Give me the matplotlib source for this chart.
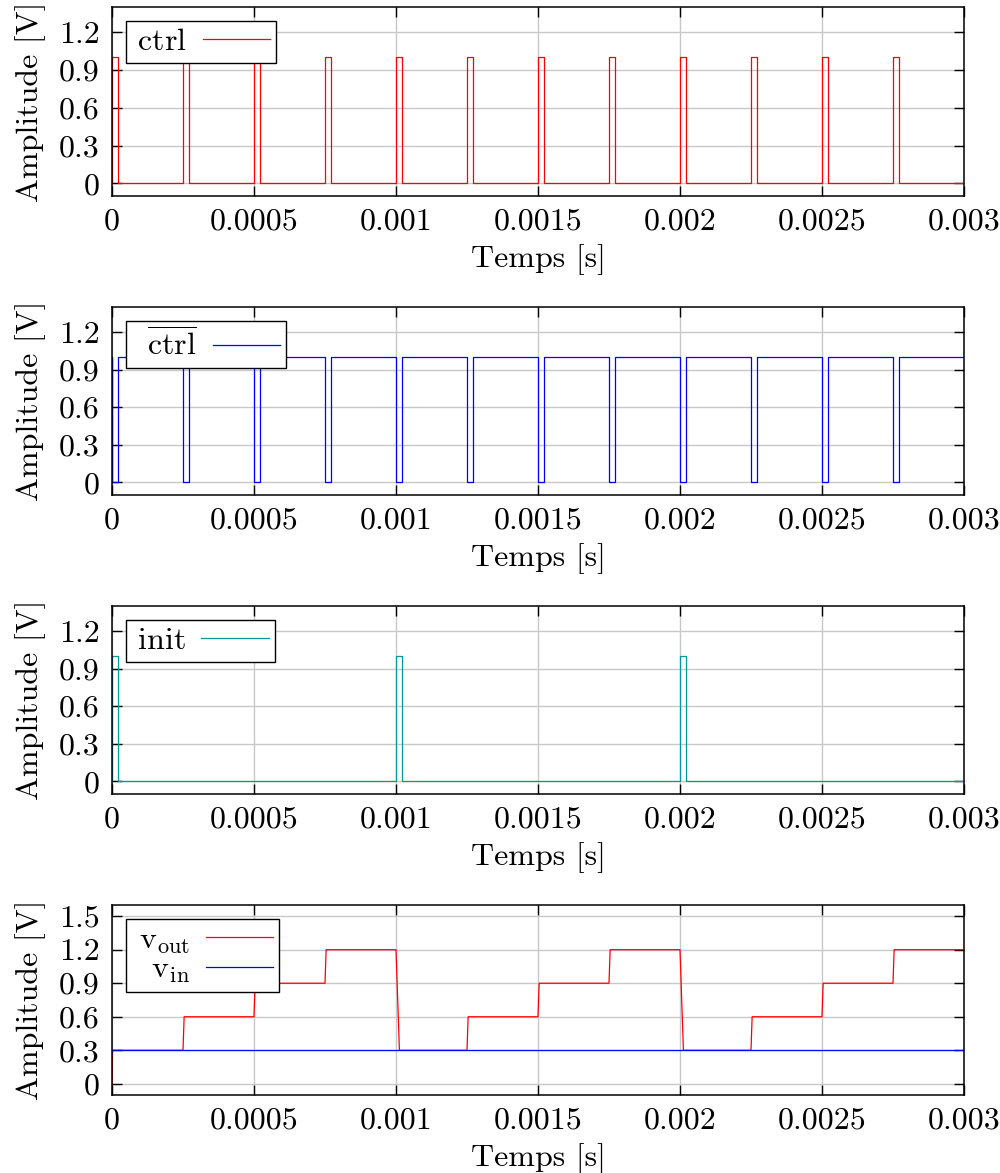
import numpy as np
import matplotlib
matplotlib.use("Agg")
import matplotlib.pyplot as plt

plt.rcParams['font.family'] = ['cmr10', 'DejaVu Serif']
plt.rcParams['mathtext.fontset'] = 'cm'
plt.rcParams['axes.formatter.use_mathtext'] = True
plt.rcParams['axes.unicode_minus'] = False

# ---------------- data ----------------
t_end = 0.003
ctrl_pulse_starts = [0.0, 0.00025, 0.0005, 0.00075, 0.001, 0.00125,
                     0.0015, 0.00175, 0.002, 0.00225, 0.0025, 0.00275]
pulse_width = 0.00002
init_pulse_starts = [0.0, 0.001, 0.002]

vout_t = [0.0, 0.000002, 0.00025, 0.000254, 0.0005, 0.000504, 0.00075, 0.000754,
          0.001, 0.001012, 0.00125, 0.001254, 0.0015, 0.001504, 0.00175, 0.001754,
          0.002, 0.002012, 0.00225, 0.002254, 0.0025, 0.002504, 0.00275, 0.002754, 0.003]
vout_v = [0.0, 0.3, 0.3, 0.6, 0.6, 0.9, 0.9, 1.2,
          1.2, 0.3, 0.3, 0.6, 0.6, 0.9, 0.9, 1.2,
          1.2, 0.3, 0.3, 0.6, 0.6, 0.9, 0.9, 1.2, 1.2]
vin_t = [0.0, 0.003]
vin_v = [0.3, 0.3]

xticks = [0, 0.0005, 0.001, 0.0015, 0.002, 0.0025, 0.003]
xtick_labels = ['0', '0.0005', '0.001', '0.0015', '0.002', '0.0025', '0.003']
yticks_a = [0, 0.3, 0.6, 0.9, 1.2]
ytick_labels_a = ['0', '0.3', '0.6', '0.9', '1.2']
yticks_b = [0, 0.3, 0.6, 0.9, 1.2, 1.5]
ytick_labels_b = ['0', '0.3', '0.6', '0.9', '1.2', '1.5']


def pulse_train(starts, width, high, low, t_end):
    t = [0.0]
    v = [low]
    for s in starts:
        t += [s, s, s + width, s + width]
        v += [low, high, high, low]
    t.append(t_end)
    v.append(low)
    return np.array(t), np.array(v)


RED = '#ff0000'
BLUE = '#0000ff'
TEAL = '#009a9a'

fig = plt.figure(figsize=(10, 11.73), dpi=100)
FS = 23

left = 0.112
width = 0.852
bottoms = [1 - 196 / 1173, 1 - 495 / 1173, 1 - 794 / 1173, 1 - 1095 / 1173]
heights = [189 / 1173, 188 / 1173, 188 / 1173, 190 / 1173]

axes = [fig.add_axes([left, b, width, h]) for b, h in zip(bottoms, heights)]


def style(ax, yticks, ylabels, ylim):
    ax.set_xlim(0, t_end)
    ax.set_ylim(*ylim)
    ax.set_xticks(xticks)
    ax.set_xticklabels(xtick_labels)
    ax.set_yticks(yticks)
    ax.set_yticklabels(ylabels)
    ax.tick_params(direction='in', length=7.5, width=1.0, top=True, right=True,
                   labelsize=FS, pad=9, color='black')
    ax.grid(True, color='#c8c8c8', linewidth=1.0)
    ax.set_axisbelow(True)
    for sp in ax.spines.values():
        sp.set_linewidth(1.1)
    ax.set_xlabel('Temps [s]', fontsize=FS, labelpad=6)
    ax.set_ylabel('Amplitude [V]', fontsize=FS, labelpad=9)


def legend(ax, **kw):
    lg = ax.legend(loc='upper left', markerfirst=False, fancybox=False,
                   framealpha=1, edgecolor='black', fontsize=FS,
                   handlelength=2.1, borderpad=0.2, labelspacing=0.0,
                   handletextpad=0.5, borderaxespad=0.45, **kw)
    lg.get_frame().set_linewidth(1.0)
    return lg


# Panel 1: ctrl
t, v = pulse_train(ctrl_pulse_starts, pulse_width, 1.0, 0.0, t_end)
axes[0].plot(t, v, color=RED, lw=0.9, label=r'$\,$ctrl')
style(axes[0], yticks_a, ytick_labels_a, (-0.1, 1.4))
legend(axes[0])

# Panel 2: ctrl bar
t, v = pulse_train(ctrl_pulse_starts, pulse_width, 0.0, 1.0, t_end)
v[0] = 0.0
axes[1].plot(t, v, color=BLUE, lw=0.9, label=r'$\ \,\overline{\mathrm{ctrl}}$')
style(axes[1], yticks_a, ytick_labels_a, (-0.1, 1.4))
legend(axes[1])

# Panel 3: init
t, v = pulse_train(init_pulse_starts, pulse_width, 1.0, 0.0, t_end)
axes[2].plot(t, v, color=TEAL, lw=0.9, label=r'$\,$init')
style(axes[2], yticks_a, ytick_labels_a, (-0.1, 1.4))
legend(axes[2])

# Panel 4: vout / vin
axes[3].plot(vout_t, vout_v, color=RED, lw=0.9, label=r'$\mathrm{v}_{\mathrm{out}}$')
axes[3].plot(vin_t, vin_v, color=BLUE, lw=0.9, label=r'$\ \ \mathrm{v}_{\mathrm{in}}$')
style(axes[3], yticks_b, ytick_labels_b, (-0.1, 1.6))
legend(axes[3])

fig.savefig('out.png', dpi=100)
